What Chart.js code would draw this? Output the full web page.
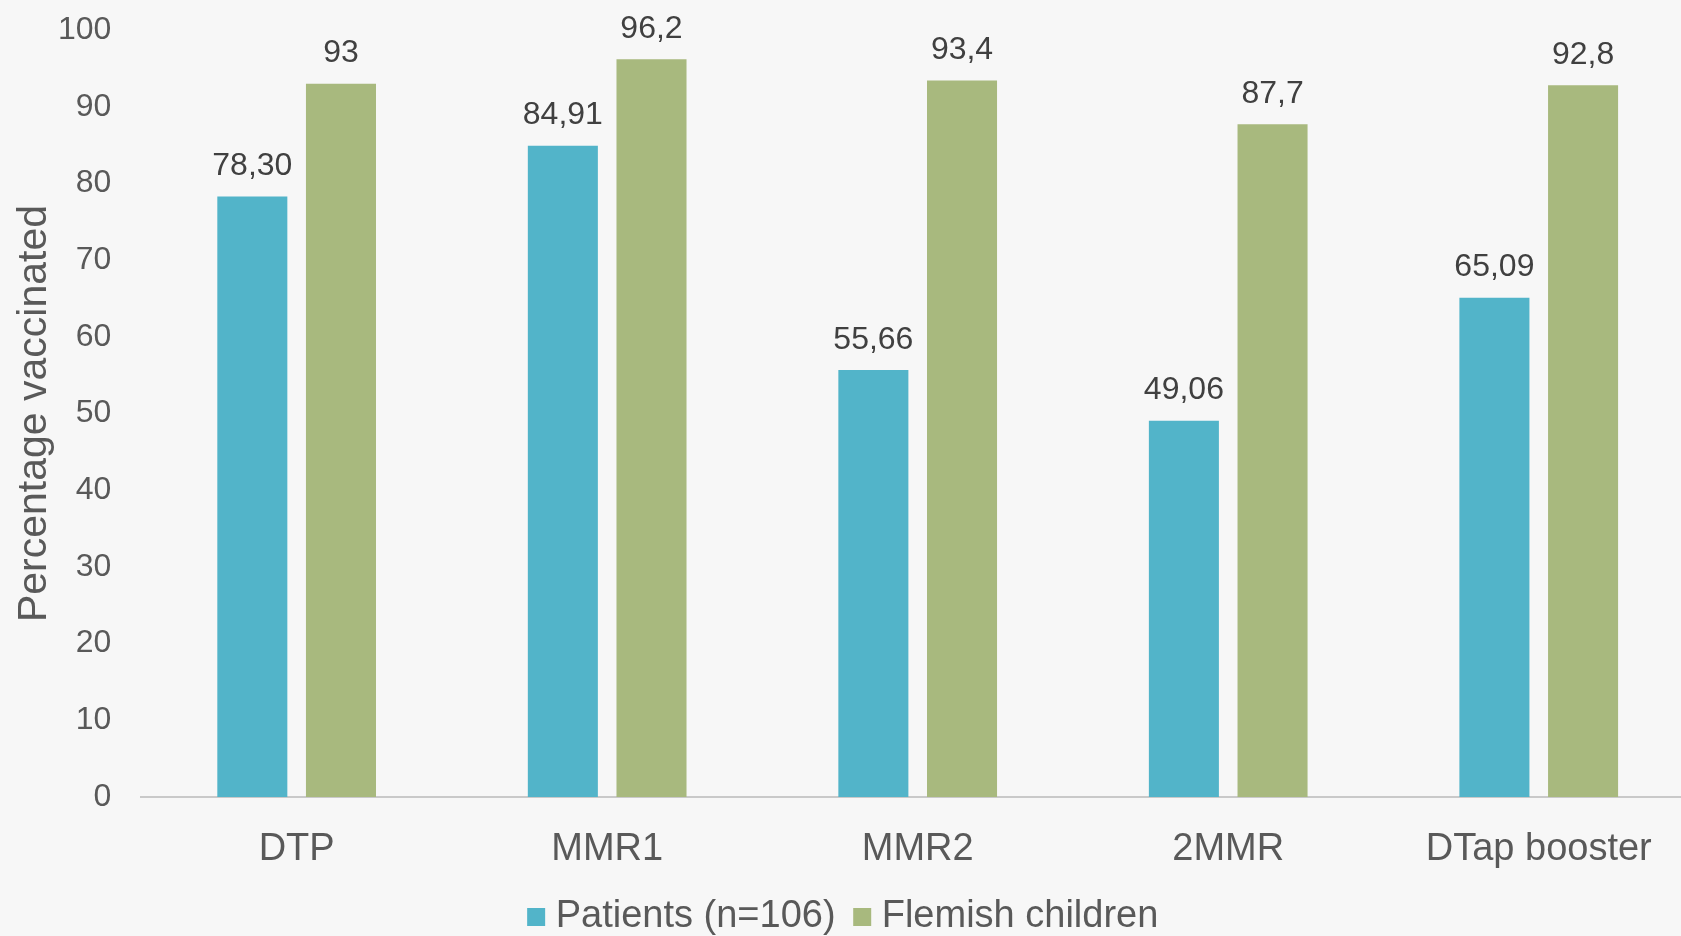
<!DOCTYPE html>
<html>
<head>
<meta charset="utf-8">
<script src="https://cdn.jsdelivr.net/npm/chart.js@4.4.1/dist/chart.umd.min.js"></script>
<style>
html, body { margin: 0; padding: 0; background: #f7f7f7; overflow: hidden; width: 1681px; height: 936px; }
#wrap { position: absolute; left: 0; top: 0; width: 1694px; height: 946px; }
canvas { display: block; }
</style>
</head>
<body>
<div id="wrap"><canvas id="c" width="1694" height="946"></canvas></div>
<script>
// ---- data ----
const categories = ['DTP', 'MMR1', 'MMR2', '2MMR', 'DTap booster'];
const patientsValues = [78.30, 84.91, 55.66, 49.06, 65.09];
const flemishValues = [93, 96.2, 93.4, 87.7, 92.8];
const seriesNames = ['Patients (n=106)', 'Flemish children'];
const yAxisTitle = 'Percentage vaccinated';
const yMin = 0, yMax = 100, yStep = 10;

const FONT = '"Liberation Sans", Arial, Helvetica, sans-serif';

function fmtPatients(v) { return v.toFixed(2).replace('.', ','); }
function fmtFlemish(v) { return String(v).replace('.', ','); }

const valueLabels = {
  id: 'valueLabels',
  afterDatasetsDraw(chart) {
    const ctx = chart.ctx;
    ctx.save();
    ctx.font = '32px ' + FONT;
    ctx.fillStyle = '#404040';
    ctx.textAlign = 'center';
    ctx.textBaseline = 'alphabetic';
    chart.data.datasets.forEach((ds, i) => {
      const meta = chart.getDatasetMeta(i);
      meta.data.forEach((bar, j) => {
        ctx.fillText(ds.fmt(ds.data[j]), bar.x, bar.y - 21.5);
      });
    });
    ctx.restore();
  }
};

new Chart(document.getElementById('c'), {
  type: 'bar',
  data: {
    labels: categories,
    datasets: [
      { label: seriesNames[0], data: patientsValues, fmt: fmtPatients,
        backgroundColor: '#52b4c9', barPercentage: 0.79, categoryPercentage: 0.571 },
      { label: seriesNames[1], data: flemishValues, fmt: fmtFlemish,
        backgroundColor: '#a8b97e', barPercentage: 0.79, categoryPercentage: 0.571 }
    ]
  },
  options: {
    responsive: false,
    animation: false,
    layout: { padding: { top: 30, left: 0, right: 0, bottom: 0 } },
    plugins: {
      legend: {
        position: 'bottom',
        labels: {
          usePointStyle: true, pointStyle: 'rect',
          boxWidth: 1, boxHeight: 18, padding: 26.15,
          color: '#595959', font: { size: 38, family: FONT }
        }
      },
      tooltip: { enabled: false }
    },
    scales: {
      x: {
        grid: { display: false, drawTicks: false },
        border: { display: true, color: '#c9c9c9', width: 2 },
        ticks: { padding: 31.15, color: '#595959', font: { size: 38, family: FONT, lineHeight: 1.15 },
                 maxRotation: 0, autoSkip: false },
        afterFit(s) { s.height -= s.options.ticks.padding; }
      },
      y: {
        min: yMin, max: yMax,
        ticks: { stepSize: yStep, padding: 30, color: '#595959', font: { size: 32, family: FONT } },
        grid: { display: false, drawTicks: false },
        border: { display: false },
        title: { display: true, text: yAxisTitle, color: '#595959',
                 font: { size: 41, family: FONT }, padding: { top: 10.5, bottom: -1.7 } },
        afterFit(s) {
          const p = s.options.ticks.padding;
          s.width -= p;
          s.paddingTop = Math.max(s.paddingTop - p, 0);
          s.paddingBottom = Math.max(s.paddingBottom - p, 0);
        }
      }
    }
  },
  plugins: [valueLabels]
});
</script>
</body>
</html>
